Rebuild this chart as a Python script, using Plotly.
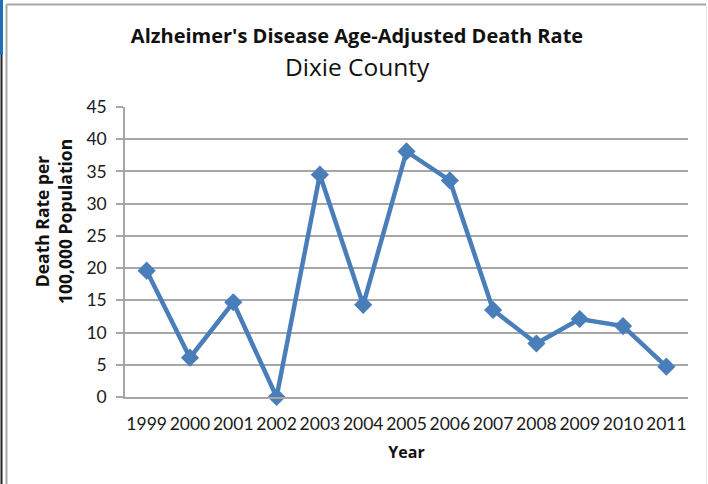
import plotly.graph_objects as go

years = ["1999", "2000", "2001", "2002", "2003", "2004", "2005",
         "2006", "2007", "2008", "2009", "2010", "2011"]
death_rate = [19.6, 6.1, 14.7, 0.0, 34.5, 14.3, 38.1, 33.6, 13.5, 8.3, 12.1, 11.0, 4.7]
y_ticks = [0, 5, 10, 15, 20, 25, 30, 35, 40, 45]

TICK_FONT = "Lato"
BOLD_FONT = "Open Sans"
GRID = "#A6A6A6"

# plot area in pixels: x 125..688, y 107..397
PL, PR, PT, PB = 125, 688, 107, 397
PW, PH = PR - PL, PB - PT


def px(x):
    return (x - PL) / PW


def py(y):
    return (PB - y) / PH


fig = go.Figure()
fig.add_trace(go.Scatter(
    x=years, y=death_rate, mode="lines+markers",
    line=dict(color="#4A7EBB", width=4.5),
    marker=dict(symbol="diamond", size=14, color="#4A7EBB"),
    showlegend=False, cliponaxis=False,
))

fig.update_layout(
    width=708, height=484,
    margin=dict(l=PL, r=708 - PR, t=PT, b=484 - PB, autoexpand=False),
    paper_bgcolor="white", plot_bgcolor="white",
    font=dict(family=TICK_FONT, color="#1a1a1a"),
    title=dict(
        text="<b>Alzheimer's Disease Age-Adjusted Death Rate</b>",
        x=px(357), xanchor="center", xref="paper",
        y=1 - 36 / 484, yanchor="middle", yref="container",
        font=dict(family=BOLD_FONT, size=20, color="#111"),
    ),
    annotations=[
        dict(text="Dixie County", xref="paper", yref="paper",
             x=px(357), y=py(66), xanchor="center", yanchor="middle",
             showarrow=False, font=dict(family=BOLD_FONT, size=24.5, color="#111")),
        dict(text="<b>Death Rate per<br>100,000 Population</b>",
             xref="paper", yref="paper", x=px(53), y=py(222),
             xanchor="center", yanchor="middle", textangle=-90,
             showarrow=False, font=dict(family=BOLD_FONT, size=17.5, color="#111")),
    ],
    xaxis=dict(
        type="category", range=[-0.5, 12.5], automargin=False,
        showgrid=False, showline=True, linecolor=GRID, linewidth=1.5,
        ticks="", tickangle=0,
        tickfont=dict(family=TICK_FONT, size=17.5, color="#1a1a1a"),
        ticklabelstandoff=10,
        title=dict(text="<b>Year</b>", font=dict(family=BOLD_FONT, size=16, color="#111"),
                   standoff=14),
        fixedrange=True,
    ),
    yaxis=dict(
        range=[0, 45], tickvals=y_ticks, automargin=False,
        showgrid=True, gridcolor=GRID, gridwidth=1.5,
        showline=True, linecolor=GRID, linewidth=1.5,
        ticks="outside", ticklen=7, tickcolor=GRID, tickwidth=1.5,
        tickfont=dict(family=TICK_FONT, size=17.5, color="#1a1a1a"),
        ticklabelstandoff=6,
        zeroline=False,
        fixedrange=True,
    ),
    shapes=[
        # chart frame (left, top and faint right edges)
        dict(type="line", xref="paper", yref="paper",
             x0=px(6.5), x1=px(706), y0=py(4.5), y1=py(4.5),
             line=dict(color="#A8A8A8", width=2)),
        dict(type="line", xref="paper", yref="paper",
             x0=px(6.5), x1=px(6.5), y0=py(4.5), y1=py(484),
             line=dict(color="#A8A8A8", width=2)),
        dict(type="line", xref="paper", yref="paper",
             x0=px(706.5), x1=px(706.5), y0=py(4.5), y1=py(484),
             line=dict(color="#E6E6E6", width=1)),
        # window edge strip
        dict(type="line", xref="paper", yref="paper",
             x0=px(1.5), x1=px(1.5), y0=py(0), y1=py(55),
             line=dict(color="#1E6FB8", width=3)),
        dict(type="line", xref="paper", yref="paper",
             x0=px(1.5), x1=px(1.5), y0=py(55), y1=py(484),
             line=dict(color="#222222", width=2)),
    ],
)

fig.write_html(
    "out.html",
    config=dict(displayModeBar=False),
    post_script="document.body.style.margin='0';document.body.style.overflow='hidden';",
)
